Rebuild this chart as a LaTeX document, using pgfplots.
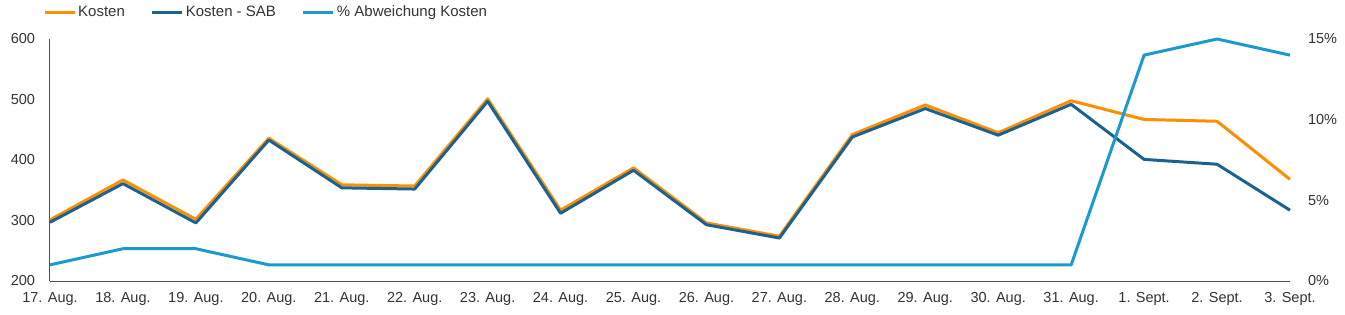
\documentclass[border=0pt]{standalone}
\usepackage{pgfplots}
\pgfplotsset{compat=1.18}
\usepackage{fontspec}
\setmainfont{Liberation Sans}
\definecolor{korange}{RGB}{255,142,0}
\definecolor{kdark}{RGB}{28,98,145}
\definecolor{klight}{RGB}{27,154,208}
\definecolor{ktext}{RGB}{51,51,51}
\definecolor{kaxis}{RGB}{80,80,80}
\begin{document}
\fontsize{14.5pt}{16pt}\selectfont
\begin{tikzpicture}
\path[use as bounding box] (-50pt,-33pt) rectangle (1295pt,281pt);
\begin{axis}[
  at={(0,0)}, anchor=south west,
  scale only axis, width=1240pt, height=242pt,
  xmin=0, xmax=17, ymin=200, ymax=600,
  xtick={0,...,17},
  xticklabels={17. Aug.,18. Aug.,19. Aug.,20. Aug.,21. Aug.,22. Aug.,23. Aug.,24. Aug.,25. Aug.,26. Aug.,27. Aug.,28. Aug.,29. Aug.,30. Aug.,31. Aug.,1. Sept.,2. Sept.,3. Sept.},
  ytick={200,300,400,500,600},
  axis x line=bottom, axis y line=left,
  axis line style={-, draw=kaxis, line width=1pt},
  major tick length=0pt,
  tick label style={font=\fontsize{14.5pt}{16pt}\selectfont, text=ktext},
  xticklabel style={yshift=-6pt},
  yticklabel style={xshift=-10pt},
  /pgf/number format/assume math mode=true,
  clip=false,
  legend columns=3,
  legend style={at={(rel axis cs:0,1)}, anchor=west, xshift=-7pt, yshift=27pt,
    draw=none, fill=none, inner sep=0pt, font=\fontsize{15pt}{16pt}\selectfont, text=ktext,
    /tikz/every even column/.append style={column sep=24pt}},
  legend image code/.code={\draw[#1] (0pt,0pt) -- (30pt,0pt);},
]
\addplot[korange, line width=3pt, line join=round] coordinates {
(0,301) (1,367) (2,302) (3,436) (4,359) (5,357) (6,501) (7,317) (8,387)
(9,296) (10,274) (11,442) (12,491) (13,445) (14,498) (15,467) (16,464) (17,368)};
\addlegendentry{Kosten}
\addplot[kdark, line width=3pt, line join=round] coordinates {
(0,297) (1,361) (2,296) (3,433) (4,354) (5,352) (6,497) (7,312) (8,383)
(9,293) (10,271) (11,438) (12,485) (13,441) (14,492) (15,401) (16,393) (17,317)};
\addlegendentry{Kosten - SAB}
\addlegendimage{klight, line width=3pt}
\addlegendentry{\% Abweichung Kosten}
\end{axis}
\begin{axis}[
  at={(0,0)}, anchor=south west,
  scale only axis, width=1240pt, height=242pt,
  xmin=0, xmax=17, ymin=0, ymax=15,
  hide x axis,
  axis y line*=right,
  y axis line style={draw=none},
  ytick={0,5,10,15},
  yticklabel={\pgfmathprintnumber{\tick}\%},
  major tick length=0pt,
  tick label style={font=\fontsize{14.5pt}{16pt}\selectfont, text=ktext},
  yticklabel style={xshift=13pt},
  /pgf/number format/assume math mode=true,
  clip=false,
]
\addplot[klight, line width=3pt, line join=round] coordinates {
(0,1) (1,2) (2,2) (3,1) (4,1) (5,1) (6,1) (7,1) (8,1)
(9,1) (10,1) (11,1) (12,1) (13,1) (14,1) (15,14) (16,15) (17,14)};
\end{axis}
\end{tikzpicture}
\end{document}
